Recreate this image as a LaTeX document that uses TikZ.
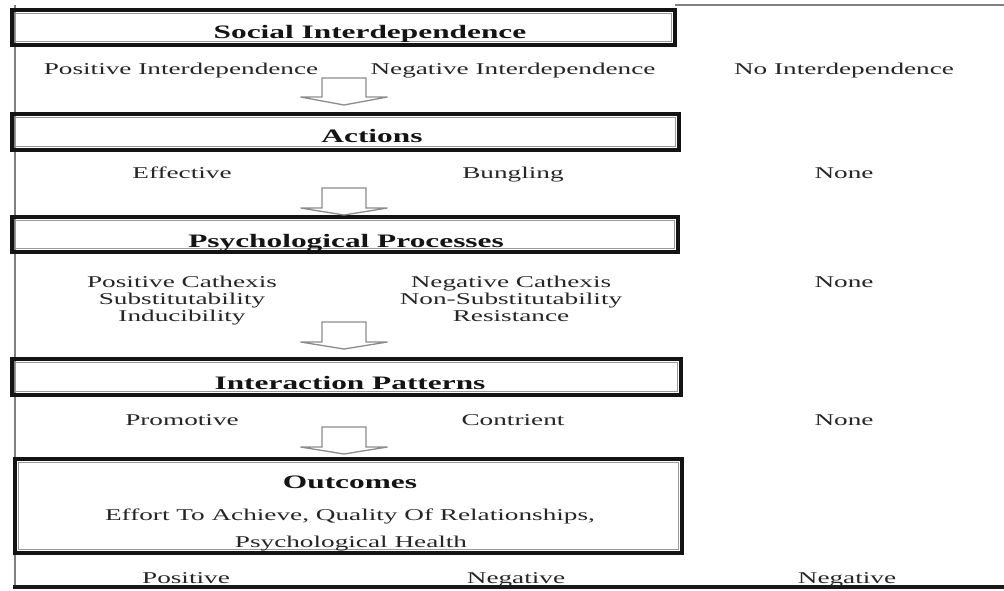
\documentclass[tikz,border=0pt]{standalone}
\usepackage{fontspec}
\setmainfont[FakeStretch=1.65]{Liberation Serif}
\usetikzlibrary{calc}
\tikzset{
  lbl/.style={anchor=base, inner sep=0, text=black!85, font=\fontsize{16.5}{17}\selectfont},
  ttl/.style={anchor=base, inner sep=0, text=black!92, font=\fontsize{19}{21}\selectfont\bfseries},
  stagebox/.style={draw=black!92, line width=4pt, inner sep=0, outer sep=0, anchor=north west},
  innerline/.style={draw=black!40, line width=1.2pt},
  arrowline/.style={draw=black!45, line width=1.3pt, line join=miter},
  frameline/.style={draw=black!50, line width=2.5pt},
  baseline/.style={draw=black!90, line width=4pt},
}
\newcommand{\blockdown}[4]{%
  \draw[arrowline] (#1-22,#2) -- (#1+22,#2) -- (#1+22,#3) -- (#1+43.5,#3) -- (#1,#4)
    -- (#1-43.5,#3) -- (#1-22,#3) -- cycle;}
\begin{document}
\begin{tikzpicture}[x=1pt,y=-1pt]
\useasboundingbox (0,0) rectangle (1004,590);
\fill[white] (0,0) rectangle (1004,590);
% outer frame
\draw[frameline] (15,5) -- (15,587);
\draw[frameline] (675,5) -- (1004,5);
\draw[baseline] (13,587) -- (1004,587);
% stage boxes
\node[stagebox, minimum width=663pt, minimum height=35pt] (b1) at (12,10) {};
\node[stagebox, minimum width=667pt, minimum height=36pt] (b2) at (12,114) {};
\node[stagebox, minimum width=666pt, minimum height=35pt] (b3) at (12,217) {};
\node[stagebox, minimum width=669pt, minimum height=36pt] (b4) at (12,359) {};
\node[stagebox, minimum width=667pt, minimum height=94pt] (b5) at (15,459) {};
\foreach \b in {b1,b2,b3,b4,b5}
  \draw[innerline] ($(\b.north west)+(3.5,3.5)$) rectangle ($(\b.south east)+(-3.5,-3.5)$);
% titles
\node[ttl] (t1) at (370,38.5) {Social Interdependence};
\node[ttl] (t2) at (372,142) {Actions};
\node[ttl] (t3) at (346,247.5) {Psychological Processes};
\node[ttl] (t4) at (350,389) {Interaction Patterns};
\node[ttl] (t5) at (350,488) {Outcomes};
\node[lbl] (o1) at (350,520) {Effort To Achieve, Quality Of Relationships,};
\node[lbl] (o2) at (351,547) {Psychological Health};
% row 1
\node[lbl] (r1a) at (181,74) {Positive Interdependence};
\node[lbl] (r1b) at (513,74) {Negative Interdependence};
\node[lbl] (r1c) at (844,74) {No Interdependence};
% row 2
\node[lbl] (r2a) at (182,178) {Effective};
\node[lbl] (r2b) at (513,178) {Bungling};
\node[lbl] (r2c) at (844,178) {None};
% row 3
\node[lbl] (r3a1) at (182,287) {Positive Cathexis};
\node[lbl] (r3a2) at (182,304) {Substitutability};
\node[lbl] (r3a3) at (182,321) {Inducibility};
\node[lbl] (r3b1) at (511,287) {Negative Cathexis};
\node[lbl] (r3b2) at (511,304) {Non-Substitutability};
\node[lbl] (r3b3) at (511,321) {Resistance};
\node[lbl] (r3c) at (844,287) {None};
% row 4
\node[lbl] (r4a) at (182,425) {Promotive};
\node[lbl] (r4b) at (513,425) {Contrient};
\node[lbl] (r4c) at (844,425) {None};
% row 5
\node[lbl] (r5a) at (186,583) {Positive};
\node[lbl] (r5b) at (516,583) {Negative};
\node[lbl] (r5c) at (847,583) {Negative};
% block arrows
\blockdown{344}{78}{97}{105}
\blockdown{344}{188}{208}{215}
\blockdown{344}{322}{342}{349}
\blockdown{344}{427}{447}{454}
\end{tikzpicture}
\end{document}
